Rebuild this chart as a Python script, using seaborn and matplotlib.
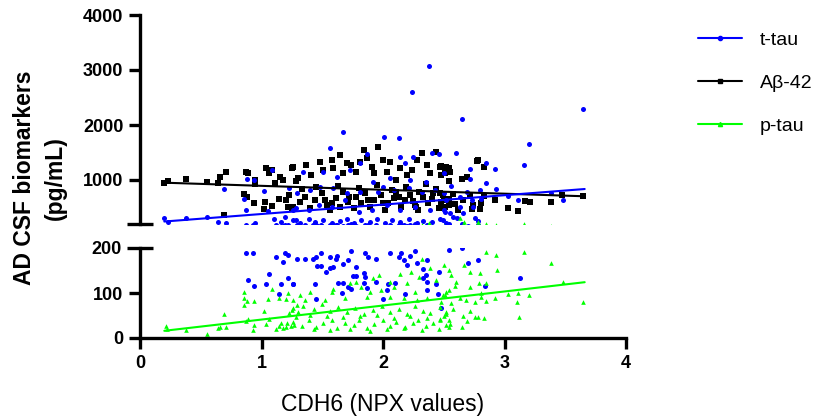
import matplotlib
matplotlib.use("Agg")
import matplotlib.pyplot as plt
import seaborn as sns
from matplotlib.lines import Line2D

# ---- data (CDH6 NPX vs CSF biomarkers) ----
ttau_x = [0.20, 0.23, 0.38, 0.55, 0.69, 0.64, 0.71, 0.88, 0.94, 1.02, 1.09, 0.86, 0.87, 0.95, 1.05, 1.10, 1.16,
          1.19, 1.23, 1.26, 1.28,
          1.67, 2.01, 2.13, 1.56, 1.87, 2.14, 2.25, 2.40, 2.46, 1.34, 1.51, 1.62, 1.73, 1.81, 1.92, 2.00, 2.06,
          2.18, 2.22, 2.35, 2.50, 1.29, 1.40, 1.48, 1.59, 1.70, 1.81, 1.96, 2.09, 2.21, 2.32, 2.43, 1.28, 1.39,
          1.47, 1.58, 1.69, 1.80, 1.91, 2.03, 2.14, 2.26, 2.39, 2.51,
          1.26, 1.32, 1.39, 1.44, 1.51, 1.58, 1.65, 1.70, 1.76, 1.82, 1.89, 1.95, 2.02, 2.07, 2.14, 2.21, 2.28,
          2.33, 2.40, 2.47, 2.52,
          2.65, 3.20, 2.60, 3.16, 2.85, 2.92, 2.72, 2.50, 2.56, 2.85, 2.72, 2.93, 2.80, 2.69, 2.73, 2.63, 2.52,
          2.81, 3.03, 3.11, 3.38, 3.48, 2.50, 2.55, 2.61, 2.66, 2.76, 2.78, 2.49, 2.58, 2.74, 2.63,
          2.38, 2.24, 3.65,
          0.87, 0.93, 1.12, 1.19, 1.22, 1.18, 1.06, 0.89, 0.94, 1.04, 1.16, 1.22, 1.26, 1.14,
          1.29, 1.36, 1.42, 1.45, 1.49, 1.56, 1.61, 1.62, 1.46, 1.49, 1.53, 1.56, 1.59, 1.67, 1.71, 1.74, 1.78,
          1.78, 1.85, 1.88, 1.94, 2.06, 2.13, 2.17, 2.15, 2.22, 2.26, 2.28, 2.20, 2.36, 2.33, 2.35, 2.46, 2.54,
          1.26, 1.44, 1.63, 1.67, 1.74, 1.75, 1.84, 1.85, 1.87, 1.94, 1.84, 2.04, 2.10, 2.03, 2.18, 2.00, 2.36,
          2.44, 2.45, 2.48, 2.33, 1.66, 1.45, 1.71, 2.36,
          2.65, 2.70, 2.78, 2.84, 3.13]
ttau_y = [303, 230, 303, 321, 836, 236, 224, 1024, 1000, 806, 1182, 649, 455, 224, 431, 285, 236,
          321, 848, 455, 273,
          1879, 1776, 1770, 1588, 1473, 1425, 1425, 1497, 1467, 1152, 1152, 1061, 1182, 1303, 970, 879, 1031,
          1303, 1000, 970, 758, 758, 818, 879, 849, 758, 788, 788, 818, 849, 788, 818, 485, 455,
          546, 516, 637, 425, 455, 546, 455, 516, 455, 425,
          273, 225, 285, 243, 273, 225, 261, 297, 225, 273, 243, 285, 225, 273, 237, 285, 225,
          261, 237, 285, 225,
          2103, 1655, 1497, 1273, 1316, 1200, 1194, 1122, 891, 952, 1018, 843, 818, 788, 637, 685, 637,
          649, 709, 637, 758, 637, 455, 394, 303, 394, 303, 261, 273, 322, 516, 503,
          3073, 2600, 2290,
          190, 189, 179, 188, 185, 170, 143, 130, 115, 119, 119, 134, 119, 97,
          176, 176, 176, 179, 188, 179, 176, 183, 161, 159, 147, 155, 157, 164, 173, 194, 157,
          138, 188, 181, 176, 188, 181, 173, 188, 182, 193, 167, 162, 173, 153, 140, 147, 196,
          119, 119, 123, 123, 108, 138, 144, 135, 112, 124, 122, 120, 122, 107, 97, 86, 107,
          120, 97, 67, 134, 101, 86, 114, 125,
          199, 166, 173, 116, 134]

abeta_x = [0.20, 0.23, 0.38, 0.55, 0.64, 0.66, 0.71, 0.87, 0.89, 0.95, 0.95, 1.04, 1.06, 1.09, 1.11, 1.15,
           1.18, 1.25, 1.28, 0.86, 0.88, 0.94, 1.03, 1.02, 1.09, 1.14, 1.20, 1.23, 1.22, 1.25, 0.69,
           1.26, 1.30, 1.37, 1.41, 1.48, 1.51, 1.58, 1.59, 1.65, 1.67, 1.70, 1.74, 1.78, 1.81, 1.84, 1.87,
           1.91, 1.93, 1.96, 2.00, 2.03, 2.06, 2.11, 2.14, 2.20, 2.24, 2.28, 2.32, 2.36, 2.39, 2.44, 2.47,
           2.51, 2.54,
           1.26, 1.32, 1.36, 1.40, 1.44, 1.50, 1.54, 1.56, 1.61, 1.65, 1.67, 1.71, 1.76, 1.78, 1.82, 1.85,
           1.89, 1.93, 1.98, 2.02, 2.04, 2.09, 2.11, 2.15, 2.18, 2.22, 2.26, 2.29, 2.33, 2.37, 2.41, 2.46,
           2.50, 2.54,
           1.33, 1.45, 1.52, 1.63, 1.72, 1.80, 1.88, 1.95, 2.00, 2.07, 2.13, 2.19, 2.25, 2.30, 2.35, 2.40,
           2.44, 2.49, 1.58, 2.27,
           2.48, 2.52, 2.55, 2.54, 2.48, 2.65, 2.69, 2.77, 2.78, 2.83, 2.47, 2.58, 2.72, 2.83, 2.48, 2.54,
           2.59, 2.66, 2.74, 2.81, 2.92, 3.03, 3.11, 3.17, 3.21, 3.38, 3.47, 3.65, 2.51, 2.62, 2.73, 2.80]
abeta_y = [951, 988, 1012, 964, 951, 1061, 1145, 1145, 1127, 1000, 927, 1212, 1121, 1176, 939, 1055,
           1000, 1224, 988, 745, 685, 588, 600, 467, 527, 649, 636, 721, 515, 479, 358,
           1231, 1031, 1273, 1091, 1334, 1182, 1364, 1212, 1455, 1122, 1303, 1273, 1152, 1334, 1546, 1394,
           1243, 1122, 1594, 1364, 1152, 1334, 1000, 1212, 1091, 1182, 1364, 1485, 1273, 1122, 1516, 1243,
           1122, 1212,
           516, 607, 697, 485, 637, 758, 546, 455, 667, 516, 788, 607, 485, 697, 576, 758,
           516, 637, 728, 455, 576, 667, 788, 516, 637, 728, 546, 455, 685, 576, 758, 485,
           637, 546,
           830, 880, 640, 900, 700, 860, 640, 910, 590, 820, 700, 870, 620, 780, 920, 660,
           840, 720, 580, 510,
           1255, 1243, 1152, 988, 1091, 1018, 1049, 1352, 1364, 1231, 758, 746, 709, 709, 607, 649,
           564, 637, 546, 588, 637, 485, 437, 625, 594, 607, 728, 709, 516, 455, 467, 479]

ptau_x = [0.21, 0.22, 0.38, 0.55, 0.64, 0.66, 0.71, 0.69, 0.86, 0.86, 0.88, 0.86, 0.94, 0.89, 0.87, 0.94,
          0.93, 1.04, 1.05, 1.02, 1.09, 1.06, 1.12, 1.14, 1.16, 1.18, 1.20, 1.21, 1.22, 1.23, 1.24, 1.26,
          1.27, 1.14, 1.20,
          2.23, 2.30, 2.14, 2.06, 1.97, 1.92, 1.78, 1.73, 1.59, 1.58, 1.40, 1.32, 1.26, 1.82, 1.89, 1.98,
          2.09, 2.20, 2.26, 2.36, 2.44, 2.50, 2.39, 2.32, 2.51, 2.17, 2.28, 2.06, 1.87, 1.69, 1.52, 1.36,
          1.29,
          1.25, 1.30, 1.34, 1.43, 1.50, 1.56, 1.63, 1.70, 1.77, 1.84, 1.92, 1.99, 2.06, 2.13, 2.20, 2.26,
          2.33, 2.39, 2.47, 2.52, 1.28, 1.40, 1.54, 1.67, 1.81, 1.95, 2.09, 2.22, 2.36, 2.50,
          1.26, 1.33, 1.39, 1.45, 1.51, 1.58, 1.62, 1.69, 1.76, 1.80, 1.87, 1.93, 2.00, 2.06, 2.11, 2.18,
          2.25, 2.29, 2.35, 2.41, 2.47, 2.54, 1.43, 1.56, 1.73, 1.89, 2.03, 2.17, 2.32, 2.46,
          2.85, 2.93, 3.16, 3.38, 2.67, 2.54, 2.56, 2.72, 2.80, 2.94, 2.60, 2.59, 2.72, 2.79, 2.85, 2.81,
          2.52, 2.49, 2.54, 2.48, 2.56, 2.63, 2.68, 2.76, 2.81, 2.85, 2.92, 3.03, 3.11, 3.10, 3.20, 3.48,
          3.65, 2.47, 2.52, 2.54, 2.58, 2.66, 2.69, 2.72, 2.76, 2.78, 2.83, 2.52, 2.55, 2.65, 3.12,
          2.38, 2.63, 2.67, 2.78]
ptau_y = [27, 21, 18, 10, 22, 25, 25, 53, 103, 88, 82, 73, 83, 42, 38, 29,
          18, 31, 86, 61, 110, 42, 19, 27, 34, 22, 24, 34, 99, 56, 27, 66,
          29, 88, 86,
          147, 136, 142, 125, 140, 133, 125, 122, 110, 103, 103, 96, 84, 114, 103, 107,
          114, 122, 103, 88, 129, 162, 155, 175, 96, 88, 84, 92, 92, 88, 84, 84,
          73,
          62, 57, 71, 64, 75, 60, 69, 58, 67, 53, 63, 72, 57, 65, 54, 71,
          61, 56, 68, 58, 47, 52, 50, 46, 49, 52, 45, 48, 44, 50,
          36, 27, 40, 24, 33, 41, 23, 34, 28, 39, 22, 32, 41, 26, 36, 24,
          34, 39, 27, 33, 40, 25, 19, 17, 20, 16, 19, 22, 18, 21,
          192, 184, 192, 166, 162, 151, 140, 146, 144, 151, 125, 116, 114, 122, 123, 99,
          103, 96, 107, 81, 77, 88, 84, 81, 92, 82, 88, 98, 99, 79, 96, 124,
          79, 42, 53, 40, 64, 49, 38, 59, 46, 47, 44, 29, 31, 25, 46,
          224, 303, 243, 235]

# linear fits as drawn in the reference (end points)
fit_x = [0.20, 3.66]
ttau_fit = [245, 836]
abeta_fit = [951, 704]
ptau_fit = [16, 124]

BLUE, GREEN = "#0000ff", "#00ff00"
series = [
    ("Aβ-42", abeta_x, abeta_y, abeta_fit, "black", "s", 13),
    ("t-tau", ttau_x, ttau_y, ttau_fit, BLUE, "o", 13),
    ("p-tau", ptau_x, ptau_y, ptau_fit, GREEN, "^", 11),
]

sns.set_style("ticks")
plt.rcParams['font.family'] = ['Liberation Sans', 'DejaVu Sans']
for key in ("text.color", "axes.labelcolor", "xtick.color", "ytick.color", "axes.edgecolor"):
    plt.rcParams[key] = "black"

W, H = 816, 416
fig = plt.figure(figsize=(W / 100, H / 100), dpi=100)


def box(left, top, right, bottom):
    return [left / W, 1 - bottom / H, (right - left) / W, (bottom - top) / H]


ax_top = fig.add_axes(box(140, 15, 626, 224))
ax_bot = fig.add_axes(box(140, 248, 626, 338))

for ax in (ax_top, ax_bot):
    for name, xs, ys, fit, col, mk, size in series:
        sns.scatterplot(x=xs, y=ys, ax=ax, color=col, marker=mk, s=size, linewidth=0, legend=False)
        sns.lineplot(x=fit_x, y=fit, ax=ax, color=col, lw=1.5, errorbar=None, legend=False)
    ax.set_xlim(0, 4)
    sns.despine(ax=ax)
    for side in ("left", "bottom"):
        ax.spines[side].set_linewidth(2.4)
    ax.tick_params(which="major", width=2.4, length=8, labelsize=13, pad=4)
    ax.tick_params(which="minor", width=2.4, length=19, direction="inout", labelsize=13, pad=4)

# upper segment
ax_top.set_ylim(200, 4000)
ax_top.set_yticks([1000, 2000, 3000, 4000])
ax_top.set_yticks([200], minor=True)
ax_top.yaxis.set_minor_formatter(plt.NullFormatter())
ax_top.spines["bottom"].set_visible(False)
ax_top.tick_params(axis="x", bottom=False, labelbottom=False)
ax_top.tick_params(axis="x", which="minor", bottom=False)

# lower segment
ax_bot.set_ylim(0, 200)
ax_bot.set_yticks([0, 100])
ax_bot.set_yticks([200], labels=["200"], minor=True)
ax_bot.set_xticks([0, 1, 2, 3, 4])
ax_bot.tick_params(axis="x", which="minor", bottom=False)

for ax in (ax_top, ax_bot):
    for lab in ax.get_xticklabels() + ax.get_yticklabels() + ax.get_yticklabels(minor=True):
        lab.set_fontweight("bold")

fig.text(40 / W, 1 - 178 / H, "AD CSF biomarkers\n(pg/mL)", rotation=90, ha="center", va="center",
         fontsize=16.5, fontweight="bold", linespacing=1.4)
fig.text(383 / W, 1 - 404 / H, "CDH6 (NPX values)", ha="center", va="center", fontsize=16.5)

handles = [Line2D([0], [0], color=BLUE, lw=1.5, marker="o", markersize=3),
           Line2D([0], [0], color="black", lw=1.5, marker="s", markersize=3),
           Line2D([0], [0], color=GREEN, lw=1.5, marker="^", markersize=3)]
fig.legend(handles, ["t-tau", "Aβ-42", "p-tau"], loc="upper left", bbox_to_anchor=(680 / W, 1 - 14 / H),
           frameon=False, fontsize=14, handlelength=2.3, handletextpad=0.9, labelspacing=1.3)

fig.savefig("out.png", dpi=100)
